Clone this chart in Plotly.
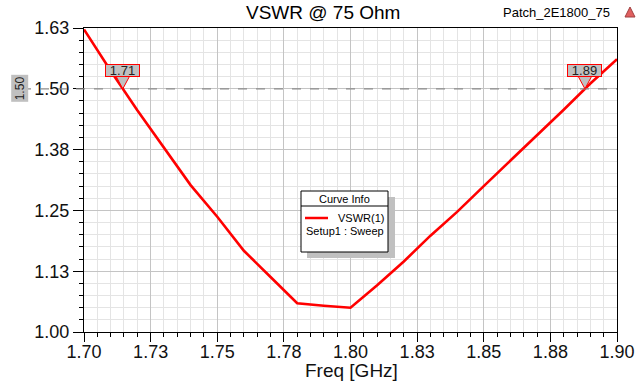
import numpy as np
import plotly.graph_objects as go

# ---- data ----
freq_ghz = [1.70, 1.71, 1.72, 1.73, 1.74, 1.75, 1.76, 1.77, 1.78, 1.79,
            1.80, 1.81, 1.82, 1.83, 1.84, 1.85, 1.86, 1.87, 1.88, 1.89, 1.90]
vswr = [1.622, 1.537, 1.456, 1.378, 1.302, 1.237, 1.167, 1.113, 1.059, 1.054,
        1.050, 1.096, 1.145, 1.198, 1.247, 1.300, 1.352, 1.403, 1.457, 1.511, 1.561]
x_tickvals = [1.70, 1.725, 1.75, 1.775, 1.80, 1.825, 1.85, 1.875, 1.90]
x_ticktext = ["1.70", "1.73", "1.75", "1.78", "1.80", "1.83", "1.85", "1.88", "1.90"]
y_tickvals = [1.0, 1.125, 1.25, 1.375, 1.5, 1.625]
y_ticktext = ["1.00", "1.13", "1.25", "1.38", "1.50", "1.63"]
ref_level = 1.50
title_text = "VSWR @ 75 Ohm"
project_text = "Patch_2E1800_75"
x_title = "Freq [GHz]"
legend_title = "Curve Info"
legend_name = "VSWR(1)"
legend_setup = "Setup1 : Sweep"

FONT = "Liberation Sans, Arial, sans-serif"
W, H = 642, 381
L, R, T, B = 84, 25, 28, 49
PW, PH = W - L - R, H - T - B


def px(x):
    return (x - L) / PW


def py(y):
    return (H - B - y) / PH


fig = go.Figure()
fig.add_trace(go.Scatter(x=freq_ghz, y=vswr, mode="lines",
                         line=dict(color="#ff0000", width=2.6),
                         showlegend=False, hoverinfo="skip"))

shapes = []
annotations = []

# reference dashed line
shapes.append(dict(type="line", xref="paper", yref="y", x0=px(22), x1=1, y0=ref_level, y1=ref_level,
                   line=dict(color="#8c8c8c", width=1.2, dash="dash"), layer="above"))
annotations.append(dict(xref="paper", yref="y", x=px(10.5), y=ref_level, text=f"{ref_level:.2f}",
                        textangle=-90, showarrow=False, bgcolor="#c0c0c0",
                        font=dict(family=FONT, size=12, color="#222"), borderpad=1))

# markers where curve crosses ref level
fx = np.array(freq_ghz)
vy = np.array(vswr)
crossings = []
for i in range(len(fx) - 1):
    a, b = vy[i] - ref_level, vy[i + 1] - ref_level
    if a == 0 or a * b < 0:
        t = a / (a - b)
        crossings.append(fx[i] + t * (fx[i + 1] - fx[i]))
for c in crossings:
    shapes.append(dict(type="path", xref="x", yref="y", xsizemode="pixel", ysizemode="pixel",
                       xanchor=c, yanchor=ref_level, path="M -7,13 L 7,13 L 0,0 Z",
                       fillcolor="#c0c0c0", line=dict(color="#ff0000", width=1), layer="above"))
    annotations.append(dict(xref="x", yref="y", x=c, y=ref_level, yshift=18.5,
                            text=f"{c:.2f}", showarrow=False, bgcolor="#c0c0c0",
                            bordercolor="#ff0000", borderwidth=1, borderpad=0,
                            width=33, height=11, font=dict(family=FONT, size=13, color="#222")))

# legend box
shapes.append(dict(type="rect", xref="paper", yref="paper", x0=px(307), x1=px(395), y0=py(197), y1=py(258),
                   fillcolor="#c0c0c0", line=dict(width=0), layer="above"))
shapes.append(dict(type="rect", xref="paper", yref="paper", x0=px(301), x1=px(388), y0=py(191), y1=py(252),
                   fillcolor="white", line=dict(color="black", width=1), layer="above"))
shapes.append(dict(type="line", xref="paper", yref="paper", x0=px(301), x1=px(388), y0=py(206), y1=py(206),
                   line=dict(color="black", width=1), layer="above"))
shapes.append(dict(type="line", xref="paper", yref="paper", x0=px(305), x1=px(328), y0=py(218), y1=py(218),
                   line=dict(color="#ff0000", width=2.5), layer="above"))
annotations.append(dict(xref="paper", yref="paper", x=px(344.5), y=py(199), text=legend_title,
                        showarrow=False, xanchor="center", yanchor="middle",
                        font=dict(family=FONT, size=11, color="black")))
annotations.append(dict(xref="paper", yref="paper", x=px(336), y=py(218), text=legend_name,
                        showarrow=False, xanchor="left", yanchor="middle",
                        font=dict(family=FONT, size=11, color="black")))
annotations.append(dict(xref="paper", yref="paper", x=px(304), y=py(231), text=legend_setup,
                        showarrow=False, xanchor="left", yanchor="middle",
                        font=dict(family=FONT, size=11, color="black")))

# titles
annotations.append(dict(xref="paper", yref="paper", x=px(323), y=py(13), text=title_text,
                        showarrow=False, xanchor="center", yanchor="middle",
                        font=dict(family=FONT, size=19, color="black")))
annotations.append(dict(xref="paper", yref="paper", x=px(612), y=py(13), text=project_text,
                        showarrow=False, xanchor="right", yanchor="middle",
                        font=dict(family=FONT, size=13, color="black")))
annotations.append(dict(xref="paper", yref="paper", x=px(351), y=py(370), text=x_title,
                        showarrow=False, xanchor="center", yanchor="middle",
                        font=dict(family=FONT, size=19, color="#111")))
# logo
shapes.append(dict(type="path", xref="paper", yref="paper",
                   path=f"M {px(625)},{py(17)} L {px(635)},{py(17)} L {px(630)},{py(7)} Z",
                   fillcolor="#e06060", line=dict(color="#a04040", width=1), layer="above"))

fig.update_layout(
    width=W, height=H,
    margin=dict(l=L, r=R, t=T, b=B, autoexpand=False),
    paper_bgcolor="white", plot_bgcolor="white",
    shapes=shapes, annotations=annotations,
    font=dict(family=FONT, color="black"),
)
fig.update_xaxes(range=[1.70, 1.90], tickmode="array", tickvals=x_tickvals, ticktext=x_ticktext,
                 ticks="outside", ticklen=9, tickcolor="black", tickwidth=1, automargin=False,
                 ticklabelstandoff=-6,
                 showline=True, linecolor="black", linewidth=1, mirror=True,
                 showgrid=True, gridcolor="#c4c4c4", gridwidth=1, zeroline=False,
                 tickfont=dict(family=FONT, size=18, color="#111"),
                 minor=dict(tick0=1.70, dtick=0.005, ticks="outside", ticklen=4, tickcolor="black",
                            showgrid=True, gridcolor="#e4e4e4", gridwidth=1))
fig.update_yaxes(range=[1.0, 1.625], tickmode="array", tickvals=y_tickvals, ticktext=y_ticktext,
                 ticks="outside", ticklen=10, tickcolor="black", tickwidth=1, automargin=False,
                 showline=True, linecolor="black", linewidth=1, mirror=True,
                 showgrid=True, gridcolor="#c4c4c4", gridwidth=1, zeroline=False,
                 tickfont=dict(family=FONT, size=18, color="#111"),
                 minor=dict(tick0=1.0, dtick=0.025, ticks="outside", ticklen=4, tickcolor="black",
                            showgrid=True, gridcolor="#e4e4e4", gridwidth=1))

fig.write_html("out.html", config={"displayModeBar": False},
               post_script="document.body.style.margin='0px';")
